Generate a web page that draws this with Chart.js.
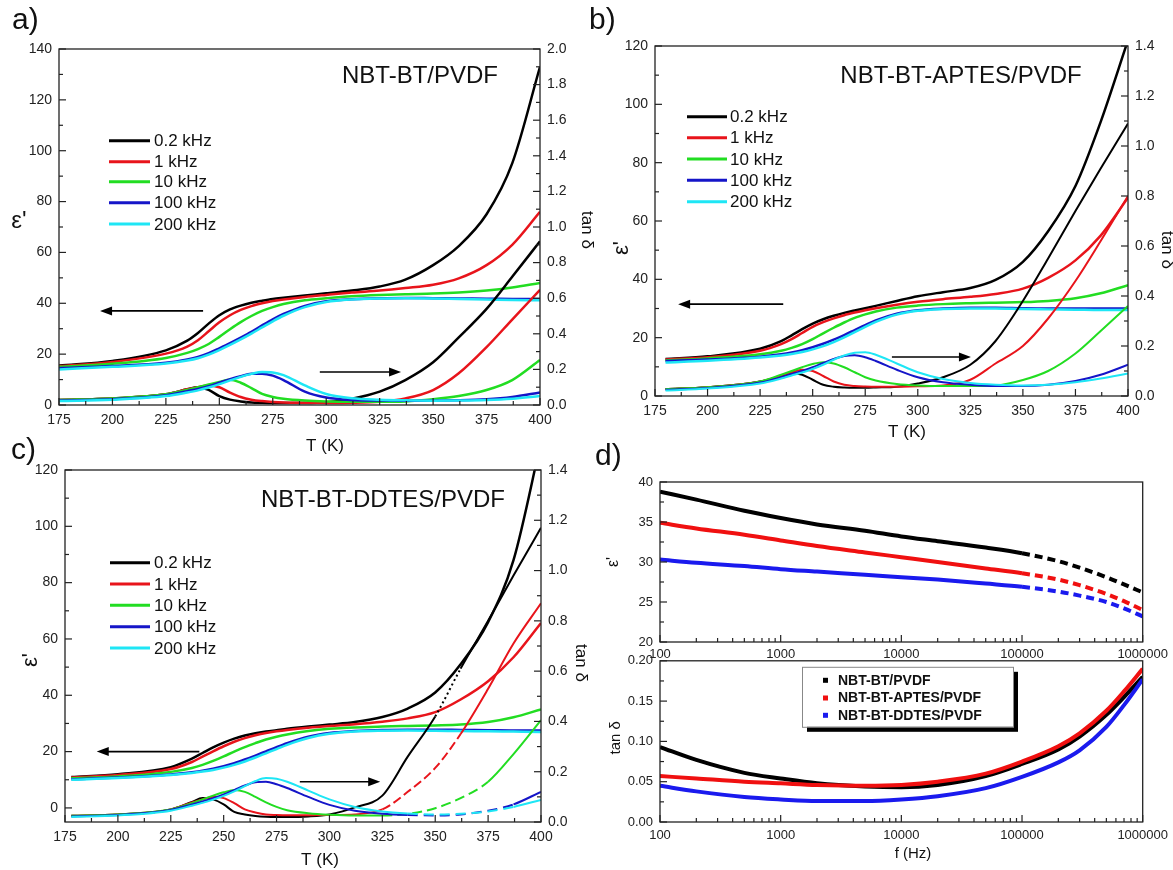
<!DOCTYPE html>
<html><head><meta charset="utf-8">
<script src="https://cdn.jsdelivr.net/npm/chart.js@4.4.1/dist/chart.umd.min.js"></script>
<style>
html,body{margin:0;padding:0;background:#fff;}
body{width:1173px;height:870px;position:relative;overflow:hidden;}
canvas{position:absolute;}
</style></head><body>
<script>
const FONT = "'Liberation Sans', Arial, Helvetica, sans-serif";

// ---------- shared labels / ticks ----------
const freqLabels = ['0.2 kHz', '1 kHz', '10 kHz', '100 kHz', '200 kHz'];
const sampleLabels = ['NBT-BT/PVDF', 'NBT-BT-APTES/PVDF', 'NBT-BT-DDTES/PVDF'];
const tickT = [175, 200, 225, 250, 275, 300, 325, 350, 375, 400];
const tickEpsA = [0, 20, 40, 60, 80, 100, 120, 140];
const tickTanA = [0, 0.2, 0.4, 0.6, 0.8, 1.0, 1.2, 1.4, 1.6, 1.8, 2.0];
const tickEpsBC = [0, 20, 40, 60, 80, 100, 120];
const tickTanBC = [0, 0.2, 0.4, 0.6, 0.8, 1.0, 1.2, 1.4];
const tickF = [100, 1000, 10000, 100000, 1000000];
const tickEpsD = [20, 25, 30, 35, 40];
const tickTanD = [0, 0.05, 0.10, 0.15, 0.20];

// ---------- panel a : NBT-BT/PVDF ----------
const tA = [175,200,225,235,240,245,250,255,260,265,270,275,280,290,300,312,325,337,350,362,375,387,400];
const epsA02  = [15.5,17.3,21.5,25.3,28.3,32,35.3,37.6,39.1,40.2,41,41.7,42.2,43.1,43.9,45,46.6,49.3,55,62.5,75,95,133];
const epsA1   = [15.3,16.9,20.2,23,25.5,29,32.5,35.3,37.4,38.9,40,40.9,41.5,42.5,43.3,44.2,45,46,47.3,49.8,55,63,76];
const epsA10  = [15,16.2,18.5,20.5,22,24,26.8,29.8,32.6,35,37,38.5,39.7,41.2,42,42.8,43.3,43.6,43.8,44.2,45,46.2,48];
const epsA100 = [14.5,15.3,16.6,17.9,18.9,20.4,22.3,24.3,26.5,28.8,31.3,33.7,35.8,39,40.8,41.6,42,42.1,42,41.9,41.8,41.7,41.6];
const epsA200 = [14,15,16.3,17.5,18.4,19.8,21.6,23.6,25.8,28.1,30.5,32.9,35.1,38.5,40.5,41.5,41.9,42,41.9,41.7,41.5,41.3,41.2];
const tanA02  = [.028,.037,.06,.088,.1,.085,.05,.03,.02,.014,.012,.011,.011,.011,.015,.035,.075,.14,.24,.38,.54,.72,.92];
const tanA1   = [.028,.037,.06,.088,.1,.11,.1,.07,.045,.03,.022,.017,.014,.012,.011,.012,.018,.037,.084,.178,.325,.48,.647];
const tanA10  = [.028,.037,.06,.085,.1,.115,.13,.142,.125,.095,.062,.045,.035,.025,.02,.018,.018,.02,.032,.05,.084,.14,.253];
const tanA100 = [.025,.033,.055,.078,.09,.105,.125,.145,.162,.175,.176,.165,.14,.075,.042,.028,.025,.024,.024,.026,.032,.045,.07];
const tanA200 = [.022,.03,.05,.07,.082,.098,.117,.138,.158,.175,.185,.183,.168,.11,.062,.038,.03,.026,.024,.025,.028,.035,.05];

// ---------- panel b : NBT-BT-APTES/PVDF ----------
const tB = [180,200,225,235,240,245,250,255,260,265,270,275,280,290,300,312,325,337,350,362,375,387,400];
const epsB02  = [12.7,13.6,16.2,18.8,20.8,22.9,24.8,26.3,27.5,28.5,29.3,30.1,30.9,32.6,34.2,35.6,37,39.8,46,56.5,72,94,122];
const epsB1   = [12.5,13.3,15.5,17.8,19.5,21.6,23.7,25.3,26.6,27.7,28.6,29.4,30.1,31.3,32.3,33.2,34,35,36.8,40.5,46.5,55,68];
const epsB10  = [12.2,12.9,14.3,15.5,16.5,17.8,19.5,21.5,23.4,25.2,26.8,28,29,30.3,31,31.5,31.8,32,32.2,32.6,33.5,35.2,38];
const epsB100 = [12,12.5,13.5,14.3,14.9,15.7,16.7,17.9,19.3,20.9,22.6,24.3,25.9,28.2,29.4,30,30.3,30.3,30.1,30,30,30,30];
const epsB200 = [11.5,12.1,13.2,13.9,14.4,15.1,16,17.1,18.5,20.1,21.9,23.7,25.4,27.9,29.2,29.8,30,30,29.8,29.7,29.6,29.5,29.5];
const tanB02  = [.028,.035,.058,.08,.092,.085,.065,.045,.037,.034,.033,.033,.034,.037,.05,.075,.125,.22,.38,.55,.74,.91,1.09];
const tanB1   = [.028,.035,.058,.082,.095,.105,.1,.08,.058,.045,.04,.038,.037,.037,.039,.042,.065,.13,.2,.31,.46,.62,.8];
const tanB10  = [.028,.035,.058,.085,.1,.115,.128,.135,.13,.115,.095,.075,.062,.048,.042,.04,.04,.042,.064,.1,.17,.26,.36];
const tanB100 = [.025,.032,.054,.075,.088,.1,.115,.132,.148,.16,.163,.155,.14,.105,.075,.055,.045,.04,.04,.045,.06,.085,.125];
const tanB200 = [.022,.03,.05,.07,.082,.094,.108,.125,.145,.162,.173,.175,.165,.13,.095,.068,.052,.045,.042,.045,.055,.07,.09];

// ---------- panel c : NBT-BT-DDTES/PVDF ----------
const tC = [178,200,225,235,240,245,250,255,260,265,270,275,280,290,300,312,325,337,350,362,375,387,400];
const epsC02  = [11,12,14.5,17.5,19.5,21.5,23.2,24.6,25.7,26.5,27.1,27.6,28.1,28.9,29.6,30.5,32.3,35.3,41,51,66,88,130];
const epsC1   = [10.8,11.7,13.8,16.3,18.2,20.1,21.9,23.5,24.8,25.8,26.6,27.2,27.7,28.5,29.1,29.7,30.6,31.8,34,38.5,45,53.5,65.7];
const epsC10  = [10.5,11.2,12.8,14.2,15.3,16.7,18.3,20,21.6,23,24.3,25.3,26.1,27.3,28.1,28.6,28.9,29.1,29.3,29.6,30.5,32.2,35];
const epsC100 = [10.2,10.8,11.9,12.7,13.2,13.9,14.8,15.9,17.2,18.6,20.1,21.6,23,25.3,26.6,27.3,27.7,27.8,27.8,27.7,27.6,27.5,27.5];
const epsC200 = [10,10.6,11.7,12.4,12.9,13.5,14.3,15.3,16.5,17.9,19.4,20.9,22.4,24.8,26.3,27.1,27.4,27.5,27.4,27.3,27.2,27.1,27];
const tanC02  = [.025,.03,.05,.08,.095,.09,.07,.04,.03,.024,.021,.02,.02,.022,.03,.058,.105,.26,.42,.61,.8,.98,1.17];
const tanC1   = [.025,.03,.05,.078,.09,.1,.095,.075,.05,.038,.03,.028,.027,.027,.028,.03,.05,.12,.215,.35,.53,.71,.87];
const tanC10  = [.025,.03,.05,.075,.09,.105,.118,.127,.12,.1,.078,.06,.047,.035,.029,.026,.026,.032,.055,.095,.16,.27,.405];
const tanC100 = [.022,.028,.048,.07,.082,.095,.11,.127,.145,.158,.16,.15,.135,.1,.068,.045,.033,.028,.026,.03,.045,.07,.12];
const tanC200 = [.02,.026,.045,.065,.076,.089,.104,.122,.143,.163,.175,.172,.16,.125,.09,.06,.042,.034,.03,.033,.042,.06,.088];

// ---------- panel d : frequency dependence ----------
const fD = [100,200,500,1000,2000,5000,10000,20000,50000,100000,200000,300000,500000,700000,1000000];
const epsD_BT    = [38.8,37.8,36.4,35.5,34.7,33.9,33.2,32.6,31.8,31.1,30.1,29.3,28.1,27.2,26.2];
const epsD_APTES = [34.9,34.2,33.4,32.7,32.0,31.2,30.6,30.0,29.2,28.6,27.8,27.1,26.0,25.1,24.0];
const epsD_DDTES = [30.3,29.9,29.5,29.1,28.8,28.4,28.1,27.8,27.3,26.9,26.3,25.8,25.0,24.2,23.2];
const tanD_BT    = [0.093,0.077,0.061,0.054,0.048,0.044,0.043,0.046,0.057,0.072,0.09,0.106,0.133,0.155,0.18];
const tanD_APTES = [0.057,0.054,0.05,0.048,0.046,0.045,0.046,0.05,0.06,0.075,0.094,0.11,0.138,0.162,0.19];
const tanD_DDTES = [0.045,0.038,0.031,0.028,0.026,0.026,0.028,0.032,0.042,0.056,0.074,0.089,0.118,0.145,0.177];

// ---------- styles ----------
const freqColors = ['#000000', '#e8141b', '#22dd22', '#1515c8', '#1ee6f5'];
const sampleColors = ['#000000', '#f01010', '#1a1aee'];

// ---------- helpers ----------
const mids = arr => arr.slice(0, -1).map((v, i) => (v + arr[i + 1]) / 2);
const logMinors = () => { const r = []; for (let e = 2; e < 6; e++) for (let k = 2; k < 10; k++) r.push(k * Math.pow(10, e)); return r; };

function lineDS(xs, ys, color, axis, width, order, dashRanges) {
  const ds = {
    data: xs.map((x, i) => ({ x: x, y: ys[i] })),
    borderColor: color, backgroundColor: color, borderWidth: width,
    yAxisID: axis, pointRadius: 0, fill: false,
    cubicInterpolationMode: 'monotone', order: order
  };
  if (dashRanges) {
    ds.segment = {
      borderDash: c => {
        const m = (c.p0.parsed.x + c.p1.parsed.x) / 2;
        for (const r of dashRanges) if (m >= r[0] && m <= r[1]) return r[2];
        return undefined;
      }
    };
  }
  return ds;
}

function axis(type, pos, min, max, ticks, fmt, size, pad, fs) {
  return {
    type: type, position: pos, min: min, max: max,
    grid: { display: false, drawTicks: false }, border: { display: false },
    afterBuildTicks: s => { s.ticks = ticks.map(v => ({ value: v })); },
    afterFit: s => { if (pos === 'bottom' || pos === 'top') s.height = size; else s.width = size; },
    ticks: { callback: fmt, padding: pad, autoSkip: false, maxRotation: 0, minRotation: 0,
             font: { family: FONT, size: fs }, color: '#222' }
  };
}

const deco = {
  id: 'deco',
  afterDraw(chart, args, o) {
    const ctx = chart.ctx, a = chart.chartArea;
    const px = x => x - o.T.l + a.left, py = y => y - o.T.t + a.top;
    ctx.save();
    ctx.strokeStyle = '#222'; ctx.lineWidth = 1.2;
    (o.ticks || []).forEach(tk => {
      const s = chart.scales[tk.id];
      [[tk.major, 7], [tk.minor, 4]].forEach(([vals, len]) => vals.forEach(v => {
        const p = s.getPixelForValue(v);
        ctx.beginPath();
        if (tk.side === 'bottom') { ctx.moveTo(p, a.bottom); ctx.lineTo(p, a.bottom - len); }
        else if (tk.side === 'left') { ctx.moveTo(a.left, p); ctx.lineTo(a.left + len, p); }
        else { ctx.moveTo(a.right, p); ctx.lineTo(a.right - len, p); }
        ctx.stroke();
      }));
    });
    ctx.strokeStyle = '#222'; ctx.lineWidth = 1.3;
    ctx.strokeRect(a.left, a.top, a.right - a.left, a.bottom - a.top);

    (o.arrows || []).forEach(ar => {
      const xs = chart.scales.x, ys = chart.scales[ar.axis];
      const x1 = xs.getPixelForValue(ar.from), x2 = xs.getPixelForValue(ar.to), y = ys.getPixelForValue(ar.y);
      const d = Math.sign(x2 - x1);
      ctx.strokeStyle = '#000'; ctx.lineWidth = 1.6;
      ctx.beginPath(); ctx.moveTo(x1, y); ctx.lineTo(x2 - d * 8, y); ctx.stroke();
      ctx.fillStyle = '#000';
      ctx.beginPath(); ctx.moveTo(x2, y); ctx.lineTo(x2 - d * 12, y - 4.5); ctx.lineTo(x2 - d * 12, y + 4.5); ctx.closePath(); ctx.fill();
    });

    if (o.legend) {
      const L = o.legend;
      if (L.box) {
        const b = L.box;
        ctx.fillStyle = '#000'; ctx.fillRect(px(b.x) + 5, py(b.y) + 5, b.w, b.h);
        ctx.fillStyle = '#fff'; ctx.fillRect(px(b.x), py(b.y), b.w, b.h);
        ctx.strokeStyle = '#888'; ctx.lineWidth = 1; ctx.strokeRect(px(b.x) + 0.5, py(b.y) + 0.5, b.w, b.h);
      }
      ctx.font = L.font; ctx.textBaseline = 'middle'; ctx.textAlign = 'left';
      L.labels.forEach((lab, i) => {
        const y = py(L.rows[i]);
        if (L.kind === 'line') {
          ctx.strokeStyle = L.colors[i]; ctx.lineWidth = 3;
          ctx.beginPath(); ctx.moveTo(px(L.x1), y); ctx.lineTo(px(L.x2), y); ctx.stroke();
        } else {
          ctx.fillStyle = L.colors[i]; ctx.fillRect(px(L.mx) - 2, y - 2, 5, 5);
        }
        ctx.fillStyle = '#111'; ctx.fillText(lab, px(L.tx), y + 1);
      });
    }

    (o.texts || []).forEach(t => {
      ctx.save();
      ctx.translate(px(t.x), py(t.y));
      if (t.rot) ctx.rotate(t.rot * Math.PI / 180);
      ctx.font = t.font; ctx.fillStyle = '#111';
      ctx.textAlign = t.align || 'center'; ctx.textBaseline = t.base || 'middle';
      ctx.fillText(t.s, 0, 0);
      ctx.restore();
    });
    ctx.restore();
  }
};

function makeChart(spec) {
  const T = spec.T;
  let w = (T.r - T.l) + spec.L + spec.R, h = (T.b - T.t) + spec.top + spec.B;
  let chart, cv;
  for (let it = 0; it < 3; it++) {
    cv = document.createElement('canvas');
    cv.width = w; cv.height = h; cv.style.width = w + 'px'; cv.style.height = h + 'px';
    document.body.appendChild(cv);
    chart = new Chart(cv, {
      type: 'line',
      data: { datasets: spec.datasets },
      options: {
        responsive: false, maintainAspectRatio: false, animation: false, devicePixelRatio: 1,
        layout: { padding: { top: spec.top, left: 0, right: 0, bottom: 0 } },
        plugins: { legend: { display: false }, tooltip: { enabled: false }, deco: spec.deco },
        scales: spec.scales
      },
      plugins: [deco]
    });
    const a = chart.chartArea;
    const dw = (T.r - T.l) - (a.right - a.left), dh = (T.b - T.t) - (a.bottom - a.top);
    if (Math.abs(dw) < 0.5 && Math.abs(dh) < 0.5) break;
    chart.destroy(); cv.remove();
    w += Math.round(dw); h += Math.round(dh);
  }
  const a = chart.chartArea;
  cv.style.left = (T.l - a.left) + 'px';
  cv.style.top = (T.t - a.top) + 'px';
  return chart;
}

const f0 = v => String(v);
const f1 = v => Number(v).toFixed(1);
const f2 = v => Number(v).toFixed(2);
const F = (s, w) => (w || '') + ' ' + s + 'px ' + FONT;

function tempPanel(p) {
  const ds = [];
  p.eps.forEach((ys, i) => ds.push(lineDS(p.t, ys, freqColors[i], 'y', 2.5, 20 - i)));
  p.tan.forEach((ys, i) => ds.push(lineDS(p.t, ys, freqColors[i], 'y2', p.tanW, 10 - i, p.dash ? p.dash[i] : null)));
  return makeChart({
    T: p.T, L: p.L, R: p.R, top: p.top, B: p.B,
    datasets: ds,
    scales: {
      x: axis('linear', 'bottom', 175, 400, tickT, f0, p.B, 7, 14),
      y: axis('linear', 'left', p.yMin, p.yMax, p.yTicks, f0, p.L, 7, 14),
      y2: axis('linear', 'right', 0, p.y2Max, p.y2Ticks, f1, p.R, 7, 14)
    },
    deco: {
      T: p.T,
      ticks: [
        { id: 'x', side: 'bottom', major: tickT, minor: mids(tickT) },
        { id: 'y', side: 'left', major: p.yTicks, minor: mids(p.yTicks) },
        { id: 'y2', side: 'right', major: p.y2Ticks, minor: mids(p.y2Ticks) }
      ],
      arrows: p.arrows,
      legend: { kind: 'line', labels: freqLabels, colors: freqColors, rows: p.legRows, x1: p.legX1, x2: p.legX2, tx: p.legTx, font: F(17) },
      texts: p.texts
    }
  });
}

// panel a
tempPanel({
  T: { l: 59, t: 49, r: 540, b: 405 }, L: 59, R: 62, top: 49, B: 50,
  t: tA, eps: [epsA02, epsA1, epsA10, epsA100, epsA200], tan: [tanA02, tanA1, tanA10, tanA100, tanA200], tanW: 2.5,
  yMin: 0, yMax: 140, yTicks: tickEpsA, y2Max: 2.0, y2Ticks: tickTanA,
  arrows: [{ axis: 'y', from: 242.4, to: 194.2, y: 37 }, { axis: 'y2', from: 297, to: 335, y: 0.185 }],
  legRows: [140.7, 161.7, 181.7, 202.7, 224], legX1: 109, legX2: 150, legTx: 154,
  texts: [
    { s: 'a)', x: 12, y: 29, font: F(30), align: 'left', base: 'alphabetic' },
    { s: 'NBT-BT/PVDF', x: 420, y: 76, font: F(24) },
    { s: "ε'", x: 19, y: 221, font: F(24) },
    { s: 'tan δ', x: 587, y: 230, font: F(17), rot: 90 },
    { s: 'T (K)', x: 325, y: 446, font: F(17) }
  ]
});

// panel b
tempPanel({
  T: { l: 655, t: 46, r: 1128, b: 396 }, L: 72, R: 45, top: 46, B: 48,
  t: tB, eps: [epsB02, epsB1, epsB10, epsB100, epsB200], tan: [tanB02, tanB1, tanB10, tanB100, tanB200], tanW: 2,
  yMin: 0, yMax: 120, yTicks: tickEpsBC, y2Max: 1.4, y2Ticks: tickTanBC,
  arrows: [{ axis: 'y', from: 236, to: 186, y: 31.5 }, { axis: 'y2', from: 287.7, to: 325.3, y: 0.156 }],
  legRows: [116.7, 137.7, 159, 180.3, 201.7], legX1: 687, legX2: 727, legTx: 730,
  texts: [
    { s: 'b)', x: 589, y: 29, font: F(30), align: 'left', base: 'alphabetic' },
    { s: 'NBT-BT-APTES/PVDF', x: 961, y: 76, font: F(24) },
    { s: "ε'", x: 622, y: 248, font: F(22), rot: -90 },
    { s: 'tan δ', x: 1167, y: 250, font: F(17), rot: 90 },
    { s: 'T (K)', x: 907, y: 432, font: F(17) }
  ]
});

// panel c
tempPanel({
  T: { l: 65, t: 470, r: 541, b: 822 }, L: 65, R: 55, top: 40, B: 48,
  t: tC, eps: [epsC02, epsC1, epsC10, epsC100, epsC200], tan: [tanC02, tanC1, tanC10, tanC100, tanC200], tanW: 2,
  yMin: -5, yMax: 120, yTicks: tickEpsBC, y2Max: 1.4, y2Ticks: tickTanBC,
  dash: [[[344, 359, [2, 3]]], [[324, 362, [9, 4]]], [[326, 377, [10, 5]]], [[335, 385, [10, 6]]], [[335, 385, [10, 6]]]],
  arrows: [{ axis: 'y', from: 238.5, to: 190, y: 20 }, { axis: 'y2', from: 286, to: 324, y: 0.16 }],
  legRows: [562.7, 584, 605.3, 626.7, 648], legX1: 110, legX2: 150, legTx: 154,
  texts: [
    { s: 'c)', x: 11, y: 459, font: F(30), align: 'left', base: 'alphabetic' },
    { s: 'NBT-BT-DDTES/PVDF', x: 383, y: 500, font: F(24) },
    { s: "ε'", x: 31, y: 660, font: F(22), rot: -90 },
    { s: 'tan δ', x: 581, y: 663, font: F(17), rot: 90 },
    { s: 'T (K)', x: 320, y: 860, font: F(17) }
  ]
});

// panel d (top): permittivity vs frequency
(function () {
  const T = { l: 660, t: 482, r: 1143, b: 642 };
  const ds = [epsD_BT, epsD_APTES, epsD_DDTES].map((ys, i) =>
    lineDS(fD, ys, sampleColors[i], 'y', 4, 3 - i, [[80000, 2000000, [8, 5]]]));
  makeChart({
    T: T, L: 68, R: 30, top: 42, B: 22, datasets: ds,
    scales: {
      x: axis('logarithmic', 'bottom', 100, 1000000, tickF, f0, 22, 5, 13),
      y: axis('linear', 'left', 20, 40, tickEpsD, f0, 68, 7, 13)
    },
    deco: {
      T: T,
      ticks: [
        { id: 'x', side: 'bottom', major: tickF, minor: logMinors() },
        { id: 'y', side: 'left', major: tickEpsD, minor: mids(tickEpsD) }
      ],
      texts: [
        { s: 'd)', x: 595, y: 465, font: F(30), align: 'left', base: 'alphabetic' },
        { s: "ε'", x: 614, y: 562, font: F(16), rot: -90 }
      ]
    }
  });
})();

// panel d (bottom): loss tangent vs frequency
(function () {
  const T = { l: 660, t: 661, r: 1143, b: 822 };
  const ds = [tanD_BT, tanD_APTES, tanD_DDTES].map((ys, i) =>
    lineDS(fD, ys, sampleColors[i], 'y', 4, 3 - i));
  makeChart({
    T: T, L: 68, R: 30, top: 10, B: 48, datasets: ds,
    scales: {
      x: axis('logarithmic', 'bottom', 100, 1000000, tickF, f0, 48, 6, 13),
      y: axis('linear', 'left', 0, 0.2, tickTanD, f2, 68, 7, 13)
    },
    deco: {
      T: T,
      ticks: [
        { id: 'x', side: 'bottom', major: tickF, minor: logMinors() },
        { id: 'y', side: 'left', major: tickTanD, minor: mids(tickTanD) }
      ],
      legend: { kind: 'marker', labels: sampleLabels, colors: sampleColors, rows: [680, 697.7, 715], mx: 825, tx: 838,
                font: F(14, 'bold'), box: { x: 802, y: 667, w: 211, h: 60 } },
      texts: [
        { s: 'tan δ', x: 616, y: 738, font: F(15), rot: -90 },
        { s: 'f (Hz)', x: 913, y: 854, font: F(15) }
      ]
    }
  });
})();
</script>
</body></html>
